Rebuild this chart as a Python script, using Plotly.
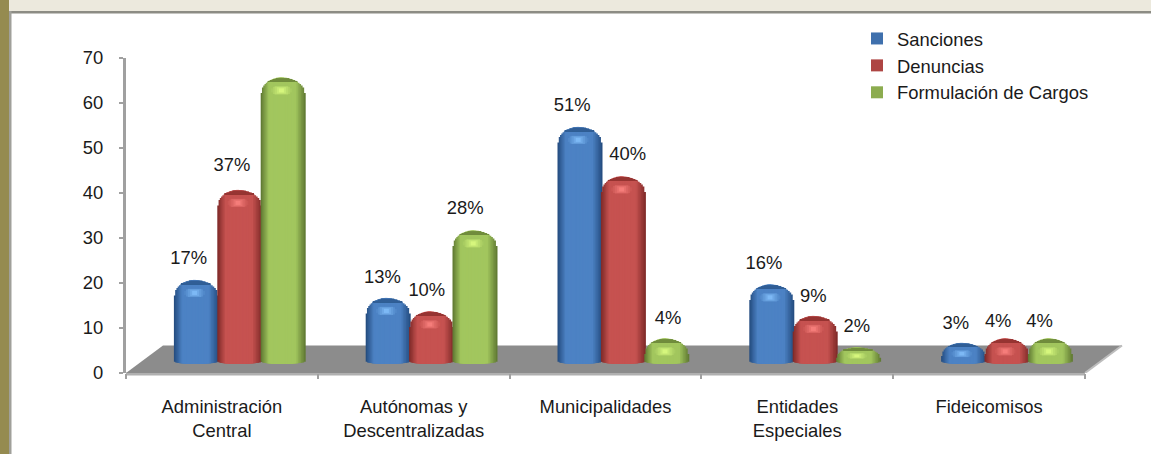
import math
import plotly.graph_objects as go

categories = ["Administración<br>Central", "Autónomas y<br>Descentralizadas", "Municipalidades", "Entidades<br>Especiales", "Fideicomisos"]
sanciones = [17, 13, 51, 16, 3]
denuncias = [37, 10, 40, 9, 4]
formulacion = [62, 28, 4, 2, 4]
series_names = ["Sanciones", "Denuncias", "Formulación de Cargos"]
y_ticks = [0, 10, 20, 30, 40, 50, 60, 70]

W, H = 1151, 454
PX_L, PX_R, PX_T, PX_B = 126, 1130, 58, 373
UNIT = 191.8  # px per category
PX_PER_VALUE = (PX_B - PX_T) / 70
FONT_SIZE = 18.4
xs = list(range(len(categories)))

palette = [
    dict(edge=(38, 78, 130), mid=(76, 130, 196), hi=(125, 185, 245), cap=(48, 94, 150)),
    dict(edge=(130, 44, 42), mid=(198, 82, 80), hi=(245, 125, 122), cap=(150, 52, 50)),
    dict(edge=(98, 124, 52), mid=(162, 198, 94), hi=(214, 246, 125), cap=(112, 140, 60)),
]
values = [sanciones, denuncias, formulacion]

# label placement nudges in pixels, per series and category (right, down)
label_dx = [[0, 2, 0, 0, 0], [0, 3, 12, 6, -1], [-1, -2, 9, 6, -3]]
label_dy = [[2, 3, 2, 2, 4], [-1, 2, 1, 4, 6], [0, 1, 3, 2, 6]]

BAR_W = 45 / UNIT
PITCH = 43.4 / UNIT
FIRST_LEFT = -48 / UNIT
TOP_EXTRA = 3.7
BASE = 2.0
N = 16


def rgb(c):
    return "rgb(%d,%d,%d)" % tuple(round(v) for v in c)


def lerp(a, b, t):
    return tuple(x + (y - x) * t for x, y in zip(a, b))


def drop_of(v):
    return min(3.5, 0.62 * (v + TOP_EXTRA - BASE))


fig = go.Figure()

for s, (name, vals, pal) in enumerate(zip(series_names, values, palette)):
    left = FIRST_LEFT + s * PITCH
    hw = BAR_W / 2
    centre = left + hw
    for j in range(N):
        k = 1 - j / N
        prof = math.sqrt(max(0, 1 - k * k))
        tops = [v + TOP_EXTRA - drop_of(v) * (1 - prof) for v in vals]
        bases = [BASE + 0.5 - 0.5 * prof for _ in vals]
        col = lerp(pal["edge"], pal["mid"], min(1, (1 - k) / 0.38))
        shift = 0.10 * hw * (1 - k)
        fig.add_trace(go.Bar(
            x=xs, y=[t - b for t, b in zip(tops, bases)], base=bases,
            width=2 * k * hw, offset=centre - k * hw - shift,
            marker=dict(color=rgb(col), line=dict(width=0)),
            showlegend=False, hoverinfo="skip",
        ))
    # darker cap on top of the dome
    for k in (0.66, 0.56, 0.44, 0.3):
        prof = math.sqrt(1 - k * k)
        tops = [v + TOP_EXTRA - drop_of(v) * (1 - prof) for v in vals]
        bases = [v + TOP_EXTRA - 1.0 * drop_of(v) / 3.5 for v in vals]
        fig.add_trace(go.Bar(
            x=xs, y=[t - b for t, b in zip(tops, bases)], base=bases,
            width=2 * k * hw, offset=centre - k * hw - 0.03 * hw,
            marker=dict(color=rgb(pal["cap"]), line=dict(width=0)),
            showlegend=False, hoverinfo="skip",
        ))
    # soft highlight under the cap, built from nested ovals
    for k, r, t in ((0.46, 0.45, 0.12), (0.38, 0.8, 0.25), (0.3, 0.9, 0.45), (0.2, 0.7, 0.7), (0.11, 0.45, 1.0)):
        scale = [drop_of(v) / 3.5 for v in vals]
        mids = [v + TOP_EXTRA - 2.9 * q for v, q in zip(vals, scale)]
        fig.add_trace(go.Bar(
            x=xs, y=[2 * r * q for q in scale],
            base=[m - r * q for m, q in zip(mids, scale)],
            width=2 * k * hw, offset=centre - k * hw - 0.08 * hw,
            marker=dict(color=rgb(lerp(pal["mid"], pal["hi"], t)), line=dict(width=0)),
            showlegend=False, hoverinfo="skip",
        ))
    # legend entry
    fig.add_trace(go.Bar(
        x=[None], y=[None], name=name,
        marker=dict(color=rgb(lerp(pal["edge"], pal["mid"], 0.65)), line=dict(width=0)),
        hoverinfo="skip",
    ))

# percentage labels above each bar
for s, (name, vals) in enumerate(zip(series_names, values)):
    label_x = [x + FIRST_LEFT + s * PITCH + 21.7 / UNIT + (dx - 7) / UNIT for x, dx in zip(xs, label_dx[s])]
    label_y = [v + TOP_EXTRA + 4.9 - dy / PX_PER_VALUE for v, dy in zip(vals, label_dy[s])]
    fig.add_trace(go.Scatter(
        x=label_x, y=label_y,
        mode="text", text=["%d%%" % v for v in vals],
        textposition="middle center",
        textfont=dict(family="Liberation Sans", size=FONT_SIZE, color="#1a1a1a"),
        showlegend=False, hoverinfo="skip", cliponaxis=False,
    ))

X0, X1 = -0.5, 4.5
SKEW_X = 37 / UNIT
FLOOR_Y = 6.1
paper_y = lambda py: 1 - py / H

shapes = [
    # page chrome
    dict(type="rect", xref="paper", yref="paper", x0=0, x1=9 / W, y0=0, y1=1,
         fillcolor="#958B50", line_width=0, layer="below"),
    dict(type="rect", xref="paper", yref="paper", x0=9 / W, x1=1, y0=paper_y(11), y1=1,
         fillcolor="#ECE9DD", line_width=0, layer="below"),
    dict(type="rect", xref="paper", yref="paper", x0=9 / W, x1=1, y0=paper_y(13.5), y1=paper_y(11),
         fillcolor="#8C8C84", line_width=0, layer="below"),
    dict(type="rect", xref="paper", yref="paper", x0=9 / W, x1=11.5 / W, y0=0, y1=paper_y(11),
         fillcolor="#A0A09A", line_width=0, layer="below"),
    # floor
    dict(type="path", xref="x", yref="y", layer="below", fillcolor="#8C8C8C", line_width=0,
         path=f"M {X0} 0 L {X1} 0 L {X1 + SKEW_X} {FLOOR_Y} L {X0 + SKEW_X} {FLOOR_Y} Z"),
    dict(type="line", xref="x", yref="y", layer="below", x0=X1, x1=X1 + SKEW_X, y0=0, y1=FLOOR_Y,
         line=dict(color="#BDBDBD", width=2)),
    # front edge of floor / x axis line
    dict(type="line", xref="x", yref="paper", layer="below", x0=X0, x1=X1,
         y0=paper_y(374), y1=paper_y(374), line=dict(color="#B0B0B0", width=3)),
]

fig.update_layout(
    width=W, height=H, autosize=False,
    margin=dict(l=0, r=0, t=0, b=0, autoexpand=False),
    paper_bgcolor="white", plot_bgcolor="rgba(0,0,0,0)",
    barmode="overlay", shapes=shapes,
    font=dict(family="Liberation Sans", size=FONT_SIZE, color="#1a1a1a"),
    legend=dict(x=857 / W, y=paper_y(20), xanchor="left", yanchor="top",
                bgcolor="rgba(0,0,0,0)", tracegroupgap=0, font=dict(size=FONT_SIZE)),
    xaxis=dict(domain=[PX_L / W, PX_R / W], range=[X0, X0 + (PX_R - PX_L) / UNIT],
               automargin=False, showgrid=False, zeroline=False, showline=False,
               tickmode="array", tickvals=xs, ticktext=categories, ticks="", ticklen=0,
               ticklabelstandoff=21,
               tickfont=dict(size=FONT_SIZE, color="#1a1a1a"),
               minor=dict(tickmode="array", tickvals=[-0.5, 0.5, 1.5, 2.5, 3.5, 4.5],
                          ticks="outside", ticklen=5, tickwidth=2, tickcolor="#A0A0A0", showgrid=False)),
    yaxis=dict(domain=[paper_y(PX_B), paper_y(PX_T)], range=[0, 70],
               automargin=False, showgrid=False, zeroline=False, showline=True, linewidth=3, linecolor="#A0A0A0",
               tickmode="array", tickvals=y_ticks, ticks="outside", ticklen=4, tickwidth=2,
               ticklabelstandoff=12,
               tickcolor="#A0A0A0", tickfont=dict(size=FONT_SIZE, color="#1a1a1a")),
)

fig.write_html("out.html", config=dict(displayModeBar=False),
               post_script="document.body.style.margin='0';")
